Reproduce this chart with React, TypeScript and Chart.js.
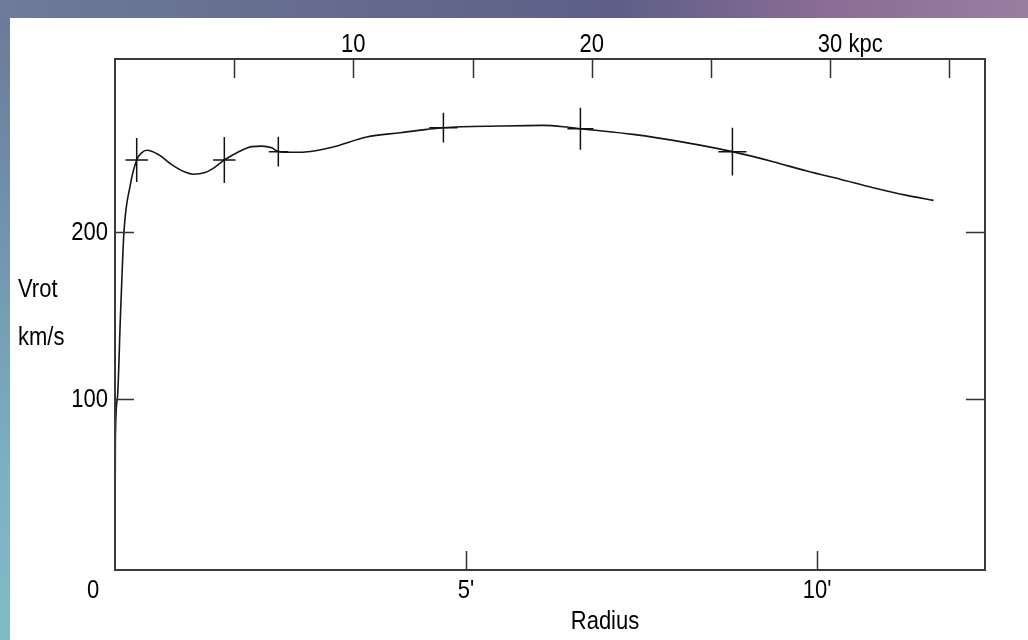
import React, { useEffect, useRef } from "react";
import { Chart, registerables } from "chart.js";

Chart.register(...registerables);

// Rotation curve (radius in arcmin, velocity in km/s)
const curveRadius = [
  0, 0.005, 0.033, 0.078, 0.128, 0.214, 0.309, 0.38, 0.452, 0.617, 0.808, 0.997,
  1.115, 1.282, 1.425, 1.557, 1.756, 1.947, 2.09, 2.232, 2.326, 2.517, 2.707,
  3.105, 3.585, 4.06, 4.44, 4.677, 5.484, 6.097, 6.434, 6.628, 7.379, 8.091,
  8.793, 9.373, 9.853, 10.328, 10.798, 11.278, 11.657,
];
const curveVrot = [
  0, 75, 100, 150, 200, 227, 242.7, 247, 248.5, 246, 240, 235.5,
  234.2, 235.2, 238.5, 242.7, 247.5, 250.7, 251, 250, 247.7, 247.3, 247.5,
  250.5, 256.4, 259, 261, 262, 263, 263.4, 262.4, 261.4, 258, 253.4,
  247.7, 241.7, 236.1, 231.2, 226.2, 221.6, 218.6,
];

// Observed points with error bars
const obsRadius = [0.309, 1.557, 2.326, 4.677, 6.628, 8.793];
const obsVrot = [242.7, 242.7, 247.7, 262.0, 261.4, 247.7];
const obsRadiusErr = [0.16, 0.16, 0.135, 0.2, 0.185, 0.2];
const obsVrotErr = [13.1, 13.7, 8.9, 8.9, 12.5, 14.3];

// Axis ticks
const bottomTicks = [5, 10];
const bottomTickLabels = ["5'", "10'"];
const topTicks = [5, 10, 15, 20, 25, 30, 35];
const topTickLabels = ["", "10", "", "20", "", "30 kpc", ""];
const leftTicks = [100, 200];
const leftTickLabels = ["100", "200"];

const FONT = "22px 'Liberation Sans', Arial, sans-serif";
const STRETCH = 1.18;

function drawText(ctx: CanvasRenderingContext2D, t: string, x: number, y: number) {
  ctx.save();
  ctx.translate(x, y);
  ctx.scale(1, STRETCH);
  ctx.fillText(t, 0, 0);
  ctx.restore();
}

const framePlugin = {
  id: "frame",
  afterDraw(chart: any) {
    const { ctx, chartArea: a, scales } = chart;
    const sx = scales.x;
    const sy = scales.y;
    const sx2 = scales.x2;
    ctx.save();
    // error bar crosses
    ctx.strokeStyle = "#111";
    ctx.lineWidth = 1.5;
    for (let i = 0; i < obsRadius.length; i++) {
      const cx = sx.getPixelForValue(obsRadius[i]);
      const cy = sy.getPixelForValue(obsVrot[i]);
      const x0 = sx.getPixelForValue(obsRadius[i] - obsRadiusErr[i]);
      const x1 = sx.getPixelForValue(obsRadius[i] + obsRadiusErr[i]);
      const y0 = sy.getPixelForValue(obsVrot[i] - obsVrotErr[i]);
      const y1 = sy.getPixelForValue(obsVrot[i] + obsVrotErr[i]);
      ctx.beginPath();
      ctx.moveTo(x0, cy);
      ctx.lineTo(x1, cy);
      ctx.moveTo(cx, y0);
      ctx.lineTo(cx, y1);
      ctx.stroke();
    }
    // frame
    ctx.strokeStyle = "#3a3a3a";
    ctx.lineWidth = 2;
    ctx.strokeRect(a.left, a.top, a.right - a.left, a.bottom - a.top);
    // inward ticks
    const TL = 19;
    ctx.lineWidth = 1.5;
    ctx.strokeStyle = "#333";
    ctx.beginPath();
    bottomTicks.forEach((v) => {
      const p = Math.round(sx.getPixelForValue(v)) + 0.5;
      ctx.moveTo(p, a.bottom);
      ctx.lineTo(p, a.bottom - TL);
    });
    topTicks.forEach((v) => {
      const p = Math.round(sx2.getPixelForValue(v)) + 0.5;
      ctx.moveTo(p, a.top);
      ctx.lineTo(p, a.top + TL);
    });
    leftTicks.forEach((v) => {
      const p = Math.round(sy.getPixelForValue(v)) + 0.5;
      ctx.moveTo(a.left, p);
      ctx.lineTo(a.left + TL, p);
      ctx.moveTo(a.right, p);
      ctx.lineTo(a.right - TL, p);
    });
    ctx.stroke();
    // labels
    ctx.fillStyle = "#000";
    ctx.font = FONT;
    ctx.textBaseline = "middle";
    ctx.textAlign = "center";
    bottomTicks.forEach((v, i) => {
      drawText(ctx, bottomTickLabels[i], sx.getPixelForValue(v), 591);
    });
    drawText(ctx, "0", a.left - 22, 591);
    drawText(ctx, "Radius", 605, 622);
    ctx.textAlign = "left";
    topTicks.forEach((v, i) => {
      const lab = topTickLabels[i];
      if (!lab) return;
      const num = lab.split(" ")[0];
      const w = ctx.measureText(num).width;
      drawText(ctx, lab, sx2.getPixelForValue(v) - w / 2, 45);
    });
    drawText(ctx, "Vrot", 18, 290);
    drawText(ctx, "km/s", 18, 338);
    ctx.textAlign = "right";
    leftTicks.forEach((v, i) => {
      drawText(ctx, leftTickLabels[i], a.left - 7, sy.getPixelForValue(v) + 1);
    });
    ctx.restore();
  },
};

export default function App() {
  const ref = useRef<HTMLCanvasElement | null>(null);
  useEffect(() => {
    if (!ref.current) return;
    const chart = new Chart(ref.current, {
      type: "line",
      data: {
        datasets: [
          {
            label: "Vrot",
            data: curveRadius.map((r, i) => ({ x: r, y: curveVrot[i] })),
            borderColor: "#161616",
            borderWidth: 1.6,
            pointRadius: 0,
            cubicInterpolationMode: "monotone",
            fill: false,
            xAxisID: "x",
            yAxisID: "y",
          },
          {
            label: "Observed",
            data: obsRadius.map((r, i) => ({ x: r, y: obsVrot[i] })),
            showLine: false,
            pointRadius: 0,
            xAxisID: "x",
            yAxisID: "y",
          },
        ],
      },
      options: {
        animation: false,
        responsive: false,
        devicePixelRatio: 1,
        layout: { padding: { left: 115, right: 43, top: 59, bottom: 70 } },
        plugins: { legend: { display: false }, tooltip: { enabled: false } },
        scales: {
          x: { type: "linear", display: false, min: 0, max: 12.39 },
          x2: { type: "linear", display: false, min: 0, max: 36.5, position: "top" },
          y: { type: "linear", display: false, min: -2, max: 303 },
        },
      },
      plugins: [framePlugin],
    } as any);
    return () => chart.destroy();
  }, []);

  return (
    <div
      style={{
        position: "fixed",
        left: 0,
        top: 0,
        width: 1028,
        height: 640,
        overflow: "hidden",
        background: "linear-gradient(to bottom, #6c7898 0%, #7396b0 40%, #7cb2c0 75%, #80bcc6 100%)",
      }}
    >
      <div
        style={{
          position: "absolute",
          left: 0,
          top: 0,
          width: 1028,
          height: 18,
          background:
            "linear-gradient(to right, #6e7b99 0%, #646a8e 35%, #5d5f88 60%, #8a6c94 80%, #9a7ea2 100%)",
        }}
      />
      <div
        style={{
          position: "absolute",
          left: 10,
          top: 18,
          width: 1018,
          height: 622,
          background: "#ffffff",
        }}
      />
      <canvas
        ref={ref}
        width={1028}
        height={640}
        style={{ position: "absolute", left: 0, top: 0, width: 1028, height: 640 }}
      />
    </div>
  );
}
